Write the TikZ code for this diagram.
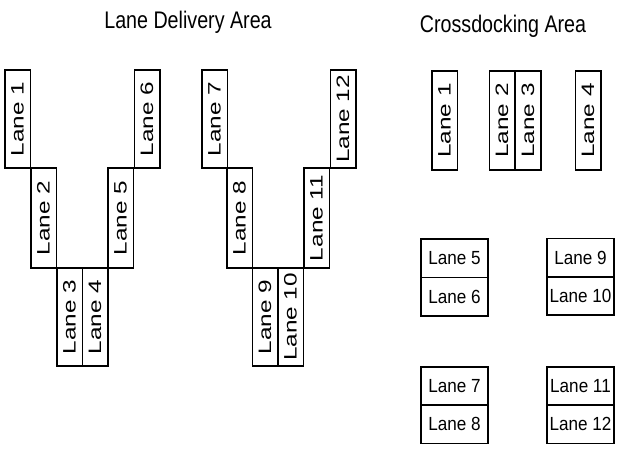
\documentclass[tikz,border=0pt]{standalone}
\usepackage{fontspec}
\setmainfont{Liberation Sans}
\newcommand{\vlab}[1]{\rotatebox{90}{\scalebox{1.35}[1]{#1}}}
\newcommand{\hlab}[1]{\scalebox{0.9}[1]{#1}}
\newcommand{\tlab}[1]{\scalebox{0.82}[1]{#1}}
\begin{document}
\begin{tikzpicture}[x=1pt,y=-1pt,
  lane/.style={draw,line width=1.5pt,rectangle,inner sep=0pt,font=\fontsize{18}{18}\selectfont},
  vlane/.style={lane,minimum width=25.5pt,minimum height=99pt},
  hlane/.style={lane,minimum width=67pt,minimum height=38.5pt,font=\fontsize{19}{19}\selectfont},
  title/.style={inner sep=0pt,font=\fontsize{24}{24}\selectfont,anchor=base}]
\useasboundingbox (0,0) rectangle (622,452);
% titles
\node[title] (t1) at (188,29) {\tlab{Lane Delivery Area}};
\node[title] (t2) at (503,33) {\tlab{Crossdocking Area}};
% lane delivery area, first V
\node[vlane,minimum height=98pt] (d1) at (17.5,119) {\vlab{Lane 1}};
\node[vlane,minimum height=100pt] (d2) at (43.5,218) {\vlab{Lane 2}};
\node[vlane,minimum height=98pt] (d3) at (69.5,317) {\vlab{Lane 3}};
\node[vlane,minimum height=98pt] (d4) at (95,317) {\vlab{Lane 4}};
\node[vlane,minimum height=100pt] (d5) at (120.5,218) {\vlab{Lane 5}};
\node[vlane,minimum height=98pt] (d6) at (147,119) {\vlab{Lane 6}};
% second V
\node[vlane,minimum height=98pt] (d7) at (214.5,119) {\vlab{Lane 7}};
\node[vlane,minimum height=100pt] (d8) at (239.5,218) {\vlab{Lane 8}};
\node[vlane,minimum height=98pt] (d9) at (265,317) {\vlab{Lane 9}};
\node[vlane,minimum height=98pt] (d10) at (290.5,317) {\vlab{Lane 10}};
\node[vlane,minimum height=100pt] (d11) at (316.5,218) {\vlab{Lane 11}};
\node[vlane,minimum height=98pt] (d12) at (343,119) {\vlab{Lane 12}};
% crossdocking area, vertical lanes
\node[vlane] (c1) at (444.5,120.5) {\vlab{Lane 1}};
\node[vlane] (c2) at (502,120.5) {\vlab{Lane 2}};
\node[vlane] (c3) at (528,120.5) {\vlab{Lane 3}};
\node[vlane] (c4) at (588,120.5) {\vlab{Lane 4}};
% crossdocking area, horizontal lanes
\node[hlane] (c5) at (454.5,258) {\hlab{Lane 5}};
\node[hlane] (c6) at (454.5,296.5) {\hlab{Lane 6}};
\node[hlane] (c9) at (580.5,257.5) {\hlab{Lane 9}};
\node[hlane] (c10) at (580.5,295.5) {\hlab{Lane 10}};
\node[hlane] (c7) at (454.5,386) {\hlab{Lane 7}};
\node[hlane] (c8) at (454.5,424) {\hlab{Lane 8}};
\node[hlane] (c11) at (580.5,386) {\hlab{Lane 11}};
\node[hlane] (c12) at (580.5,424) {\hlab{Lane 12}};
\end{tikzpicture}
\end{document}
